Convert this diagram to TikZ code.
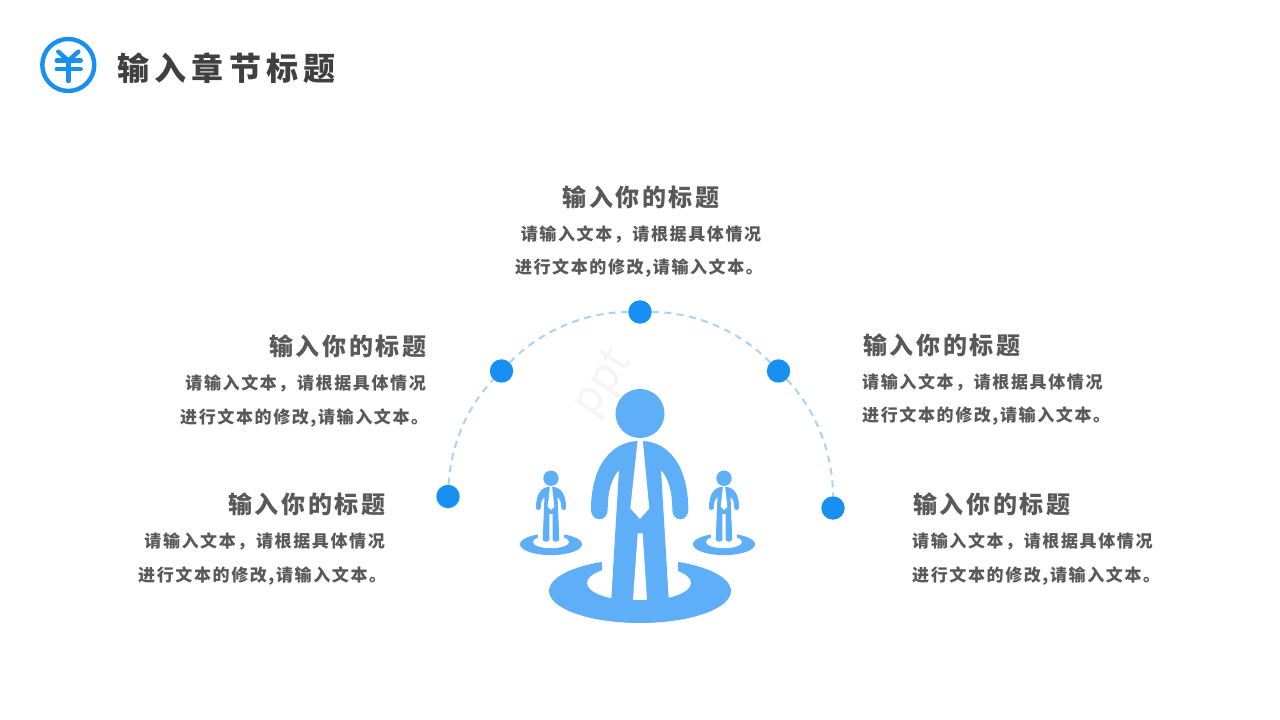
\documentclass[tikz,border=0pt]{standalone}
\usepackage{fontspec}
\newfontfamily\cjkT[LetterSpace=16.5]{Noto Sans CJK SC}
\newfontfamily\cjkS[LetterSpace=11]{Noto Sans CJK SC}
\newfontfamily\cjkB[LetterSpace=9.5]{Noto Sans CJK SC}
\newfontfamily\markfont{Noto Sans CJK SC}
\definecolor{dotblue}{HTML}{1890F3}
\definecolor{figblue}{HTML}{5EAEF8}
\definecolor{arcblue}{HTML}{A9D3F6}
\definecolor{titlegray}{HTML}{404040}
\definecolor{textgray}{HTML}{595959}
\definecolor{markgray}{HTML}{F5F5F5}
\tikzset{
  dotnode/.style={circle,fill=dotblue,minimum size=23.4pt,inner sep=0pt},
  arcline/.style={arcblue,line width=2pt,dash pattern=on 7pt off 5.5pt,looseness=0.86},
  pagetitle/.style={inner sep=0pt,text=titlegray,font=\fontsize{32pt}{36pt}\selectfont\cjkT\bfseries},
  heading/.style={inner sep=0pt,text=textgray,font=\fontsize{24pt}{28pt}\selectfont\cjkS\bfseries},
  bodyline/.style={inner sep=0pt,text=textgray,font=\fontsize{17pt}{20pt}\selectfont\cjkB\bfseries},
  yuan/.style={dotblue,line width=4.4pt,line cap=round,line join=round},
  watermark/.style={inner sep=0pt,text=markgray,rotate=56,font=\fontsize{44pt}{48pt}\selectfont\markfont},
}
\newcommand{\hd}{输入你的标题}
\newcommand{\la}{请输入文本，请根据具体情况}
\newcommand{\lb}{进行文本的修改,请输入文本。}
\begin{document}
\begin{tikzpicture}[x=1pt,y=1pt]
\useasboundingbox (0,0) rectangle (1280,720);
\fill[white] (0,0) rectangle (1280,720);
\node[watermark] (wm) at (604,336) {ppt};
% header icon and title
\begin{scope}[yshift=720pt,yscale=-1]
  \draw[yuan] (68.3,65) circle (26);
  \draw[yuan] (58.3,51.7) -- (68.3,60.7) -- (78.3,51.7);
  \draw[yuan] (56.7,60.7) -- (80.7,60.7);
  \draw[yuan] (56.7,69.3) -- (80.7,69.3);
  \draw[yuan] (68.3,60.7) -- (68.3,81);
\end{scope}
\node[pagetitle,anchor=west] (title) at (117,652) {输入章节标题};
% dots and arc
\node[dotnode] (d1) at (448,223.5) {};
\node[dotnode] (d2) at (501.5,349) {};
\node[dotnode] (d3) at (640,408) {};
\node[dotnode] (d4) at (778.5,349) {};
\node[dotnode] (d5) at (833,212) {};
\draw[arcline] (d1) to[out=87,in=226] (d2);
\draw[arcline] (d2) to[out=46,in=180] (d3);
\draw[arcline] (d3) to[out=0,in=134] (d4);
\draw[arcline] (d4) to[out=-46,in=90] (d5);
% central figure
\begin{scope}[yshift=720pt,yscale=-1]
  \fill[figblue] (640,591) ellipse (91 and 32);
  \fill[white] (602,555) rectangle (677.7,583);
  \fill[white] (639,583) ellipse (52 and 18);
  \fill[figblue] (640,413.5) circle (24.5);
  \fill[figblue] (637.7,441)
     .. controls (612,442) and (591,465) .. (591,510)
     arc[start angle=180,end angle=0,x radius=8.35,y radius=9.3]
     .. controls (607.7,490) and (612,478) .. (619,470)
     -- (611,604) -- (669,604) -- (661,470)
     .. controls (668,478) and (672.3,490) .. (672.3,510)
     arc[start angle=180,end angle=0,x radius=8,y radius=9.3]
     .. controls (688.3,465) and (668,442) .. (642.7,441) -- cycle;
  \fill[white] (637.7,440) -- (642.7,440) -- (649.3,508.3) -- (640,519) -- (630.3,508.3) -- cycle;
  \fill[white] (637.7,533.5) -- (642.7,533.5) -- (647,600) -- (633,600) -- cycle;
  \foreach \cx in {551,724}{
    \begin{scope}[xshift=\cx pt]
      \fill[figblue] (0,544.3) ellipse (31 and 10.8);
      \fill[white] (-13,530) rectangle (13,543);
      \fill[white] (0,542) ellipse (18 and 6.2);
      \fill[figblue] (0,478.3) circle (7.7);
      \fill[figblue] (-1,486.7)
        .. controls (-9,487) and (-15,493) .. (-15,507.5)
        arc[start angle=180,end angle=0,x radius=2.4,y radius=2.6]
        .. controls (-10.2,502) and (-9,499) .. (-6.5,496.5)
        -- (-8.3,539.3) arc[start angle=180,end angle=0,x radius=3.4,y radius=2.4]
        -- (-1.7,514) -- (1.7,514) -- (1.5,539.3)
        arc[start angle=180,end angle=0,x radius=3.4,y radius=2.4]
        -- (6.5,496.5)
        .. controls (9,499) and (10.2,502) .. (10.2,507.5)
        arc[start angle=180,end angle=0,x radius=2.4,y radius=2.6]
        .. controls (15,493) and (9,487) .. (1,486.7) -- cycle;
      \fill[white] (-1,486) -- (1,486) -- (3.3,506.7) -- (0,510) -- (-3.3,506.7) -- cycle;
    \end{scope}
  }
\end{scope}
% top text
\node[heading,anchor=center] (h3) at (641,523) {\hd};
\node[bodyline,anchor=center] (a3) at (641,485.5) {\la};
\node[bodyline,anchor=center] (b3) at (639,451.5) {\lb};
% upper left
\node[heading,anchor=east] (h2) at (426.5,374) {\hd};
\node[bodyline,anchor=east] (a2) at (426,336.5) {\la};
\node[bodyline,anchor=west] (b2) at (180,301.5) {\lb};
% lower left
\node[heading,anchor=east] (h1) at (385.5,216) {\hd};
\node[bodyline,anchor=east] (a1) at (385,178.5) {\la};
\node[bodyline,anchor=west] (b1) at (138,143.5) {\lb};
% upper right
\node[heading,anchor=west] (h4) at (863,375) {\hd};
\node[bodyline,anchor=west] (a4) at (862,337.5) {\la};
\node[bodyline,anchor=west] (b4) at (862,303.5) {\lb};
% lower right
\node[heading,anchor=west] (h5) at (913,216) {\hd};
\node[bodyline,anchor=west] (a5) at (912,178.5) {\la};
\node[bodyline,anchor=west] (b5) at (912,143.5) {\lb};
\end{tikzpicture}
\end{document}
